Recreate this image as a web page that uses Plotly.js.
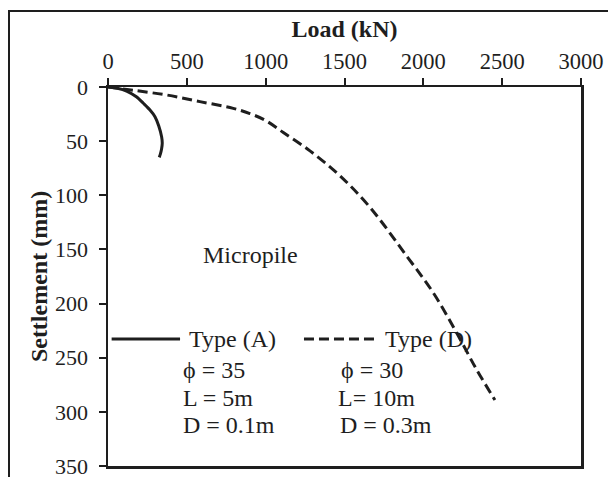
<!DOCTYPE html>
<html>
<head>
<meta charset="utf-8">
<script src="https://cdn.plot.ly/plotly-3.0.1.min.js"></script>
<style>
  html, body { margin: 0; padding: 0; background: #fff; }
  #chart { width: 608px; height: 477px; }
</style>
</head>
<body>
<div id="chart"></div>
<script>
// Type (A): phi = 35, L = 5 m, D = 0.1 m
const loadA = [0, 60, 118, 180, 224, 265, 298, 322, 340, 344, 340, 332, 325];
const settleA = [0, 1.2, 3.7, 9, 15, 21, 27.4, 36, 46, 52, 57, 62, 65];

// Type (D): phi = 30, L = 10 m, D = 0.3 m
const loadD = [0, 160, 372, 583, 794, 900, 1000, 1112, 1281, 1471, 1661, 1894, 2063, 2211, 2338, 2454];
const settleD = [0, 3, 7.4, 13.5, 19.7, 24.5, 31, 42, 59, 82, 111, 156, 190, 227, 261, 289];

const xTicks = [0, 500, 1000, 1500, 2000, 2500, 3000];
const yTicks = [0, 50, 100, 150, 200, 250, 300, 350];

const FONT = "Liberation Serif";
const INK = "#1e1e1e";

const traces = [
  {
    x: loadA, y: settleA, type: "scatter", mode: "lines", name: "Type (A)",
    line: { color: INK, width: 3, shape: "spline", smoothing: 0.8 },
    hoverinfo: "skip"
  },
  {
    x: loadD, y: settleD, type: "scatter", mode: "lines", name: "Type (D)",
    line: { color: INK, width: 3, dash: "10px,5px", shape: "spline", smoothing: 1 },
    hoverinfo: "skip"
  }
];

function note(text, x, y) {
  return { text: text, x: x, y: y, xref: "x", yref: "y", xanchor: "left", yanchor: "middle",
           showarrow: false, font: { family: FONT, size: 24, color: INK } };
}

const layout = {
  width: 608, height: 477,
  margin: { l: 108, r: 27, t: 87, b: 11, pad: 0 },
  paper_bgcolor: "#fff", plot_bgcolor: "#fff",
  showlegend: false,
  font: { family: FONT, size: 22, color: INK },
  xaxis: {
    side: "top", range: [0, 3000], tickvals: xTicks, ticktext: xTicks.map(String),
    ticks: "outside", ticklen: 7, tickwidth: 2, tickcolor: INK,
    showline: true, linewidth: 2.5, linecolor: INK, mirror: true,
    showgrid: false, zeroline: false, ticklabeloverflow: "allow",
    title: { text: "<b>Load (kN)</b>", font: { family: FONT, size: 24, color: INK }, standoff: 4 },
    tickfont: { family: FONT, size: 22.5, color: INK }
  },
  yaxis: {
    range: [350, 0], tickvals: yTicks, ticktext: yTicks.map(String),
    ticks: "outside", ticklen: 7, tickwidth: 2, tickcolor: INK,
    showline: true, linewidth: 2.5, linecolor: INK, mirror: true,
    showgrid: false, zeroline: false, ticklabeloverflow: "allow", ticklabelstandoff: 6,
    title: { text: "<b>Settlement (mm)</b>", font: { family: FONT, size: 24, color: INK }, standoff: 1 },
    tickfont: { family: FONT, size: 22, color: INK }
  },
  shapes: [
    { type: "rect", xref: "paper", yref: "paper",
      x0: -0.2093, x1: 1.08, y0: -0.05, y1: 1.2005,
      line: { color: INK, width: 2 }, fillcolor: "rgba(0,0,0,0)", layer: "below" },
    { type: "line", xref: "x", yref: "y", x0: 23, x1: 457, y0: 232.7, y1: 232.7,
      line: { color: INK, width: 3 } },
    { type: "line", xref: "x", yref: "y", x0: 1243, x1: 1693, y0: 232.7, y1: 232.7,
      line: { color: INK, width: 3, dash: "10px,5px" } }
  ],
  annotations: [
    note("Micropile", 588, 155),
    note("Type (A)", 501, 232.7),
    note("Type (D)", 1742, 232.7),
    note("\u03d5 = 35", 463, 261),
    note("L = 5m", 463, 287),
    note("D = 0.1m", 463, 312),
    note("\u03d5 = 30", 1465, 261),
    note("L= 10m", 1446, 287),
    note("D = 0.3m", 1459, 312)
  ]
};

Plotly.newPlot("chart", traces, layout, { staticPlot: true, displayModeBar: false });
</script>
</body>
</html>
